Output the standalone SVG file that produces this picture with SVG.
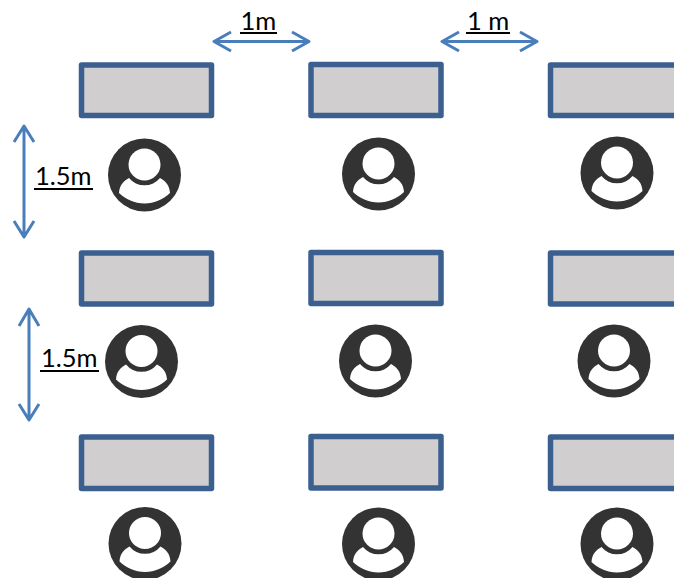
<svg xmlns="http://www.w3.org/2000/svg" xmlns:xlink="http://www.w3.org/1999/xlink" width="674" height="578" viewBox="0 0 674 578">
<style>
.desk{fill:#d0cece;stroke:#3b6090;stroke-width:5.500;stroke-linejoin:round}
.arrow{fill:none;stroke:#4a7ebb;stroke-width:3;stroke-linejoin:round}
.label{font-family:"Lato","Open Sans",sans-serif;font-size:25.500px;fill:#000}
.rule{stroke:#000;stroke-width:2}
</style>
<defs>
<g id="person">
<circle r="36.500" fill="#333"/>
<circle cx="0" cy="-10.500" r="16" fill="#fff"/>
<path d="M-25.500 18C-25 10 -21 6 -15.500 3A20 20 0 0 0 15.500 3C21 6 25 10 25.500 18C19 24 10 28.500 0 28.500C-10 28.500 -19 24 -25.500 18Z" fill="#fff"/>
</g>
</defs>
<g id="connectors">
<path class="arrow" d="M214 41.500H309M231 32L214 41.500L231 51M292 32L309 41.500L292 51"/>
<path class="arrow" d="M442 41.500H537M459 32L442 41.500L459 51M520 32L537 41.500L520 51"/>
<path class="arrow" d="M24 126V237M14 142L24 126L34 142M14 221L24 237L34 221"/>
<path class="arrow" d="M29 309V420M19 326L29 309L39 326M19 404L29 420L39 404"/>
</g>
<g id="desk-1-1"><rect class="desk" x="81.500" y="65" width="130" height="50.500"/></g>
<g id="desk-1-2"><rect class="desk" x="311" y="64.500" width="130" height="51"/></g>
<g id="desk-1-3"><rect class="desk" x="550.500" y="65" width="130" height="50.500"/></g>
<g id="desk-2-1"><rect class="desk" x="81.500" y="253" width="130" height="51"/></g>
<g id="desk-2-2"><rect class="desk" x="311" y="252.500" width="130" height="51"/></g>
<g id="desk-2-3"><rect class="desk" x="550.500" y="253" width="130" height="51"/></g>
<g id="desk-3-1"><rect class="desk" x="81.500" y="437" width="130" height="51.500"/></g>
<g id="desk-3-2"><rect class="desk" x="311" y="436.500" width="130" height="51.500"/></g>
<g id="desk-3-3"><rect class="desk" x="550.500" y="437" width="130" height="51.500"/></g>
<g id="person-1-1"><use xlink:href="#person" href="#person" x="144.500" y="175"/></g>
<g id="person-1-2"><use xlink:href="#person" href="#person" x="378.500" y="174"/></g>
<g id="person-1-3"><use xlink:href="#person" href="#person" x="617" y="173"/></g>
<g id="person-2-1"><use xlink:href="#person" href="#person" x="141.500" y="361.500"/></g>
<g id="person-2-2"><use xlink:href="#person" href="#person" x="375.500" y="361"/></g>
<g id="person-2-3"><use xlink:href="#person" href="#person" x="614" y="361"/></g>
<g id="person-3-1"><use xlink:href="#person" href="#person" x="145" y="543.500"/></g>
<g id="person-3-2"><use xlink:href="#person" href="#person" x="378.500" y="544"/></g>
<g id="person-3-3"><use xlink:href="#person" href="#person" x="617" y="544"/></g>
<g id="label-top-1"><text class="label" x="240.500" y="29.500">1m</text><line class="rule" x1="240" y1="33" x2="277" y2="33"/></g>
<g id="label-top-2"><text class="label" x="467" y="29.500">1 m</text><line class="rule" x1="466" y1="33" x2="510" y2="33"/></g>
<g id="label-left-1"><text class="label" x="35" y="185">1.5m</text><line class="rule" x1="34" y1="189" x2="93" y2="189"/></g>
<g id="label-left-2"><text class="label" x="41" y="367">1.5m</text><line class="rule" x1="40" y1="371" x2="99" y2="371"/></g>
</svg>
